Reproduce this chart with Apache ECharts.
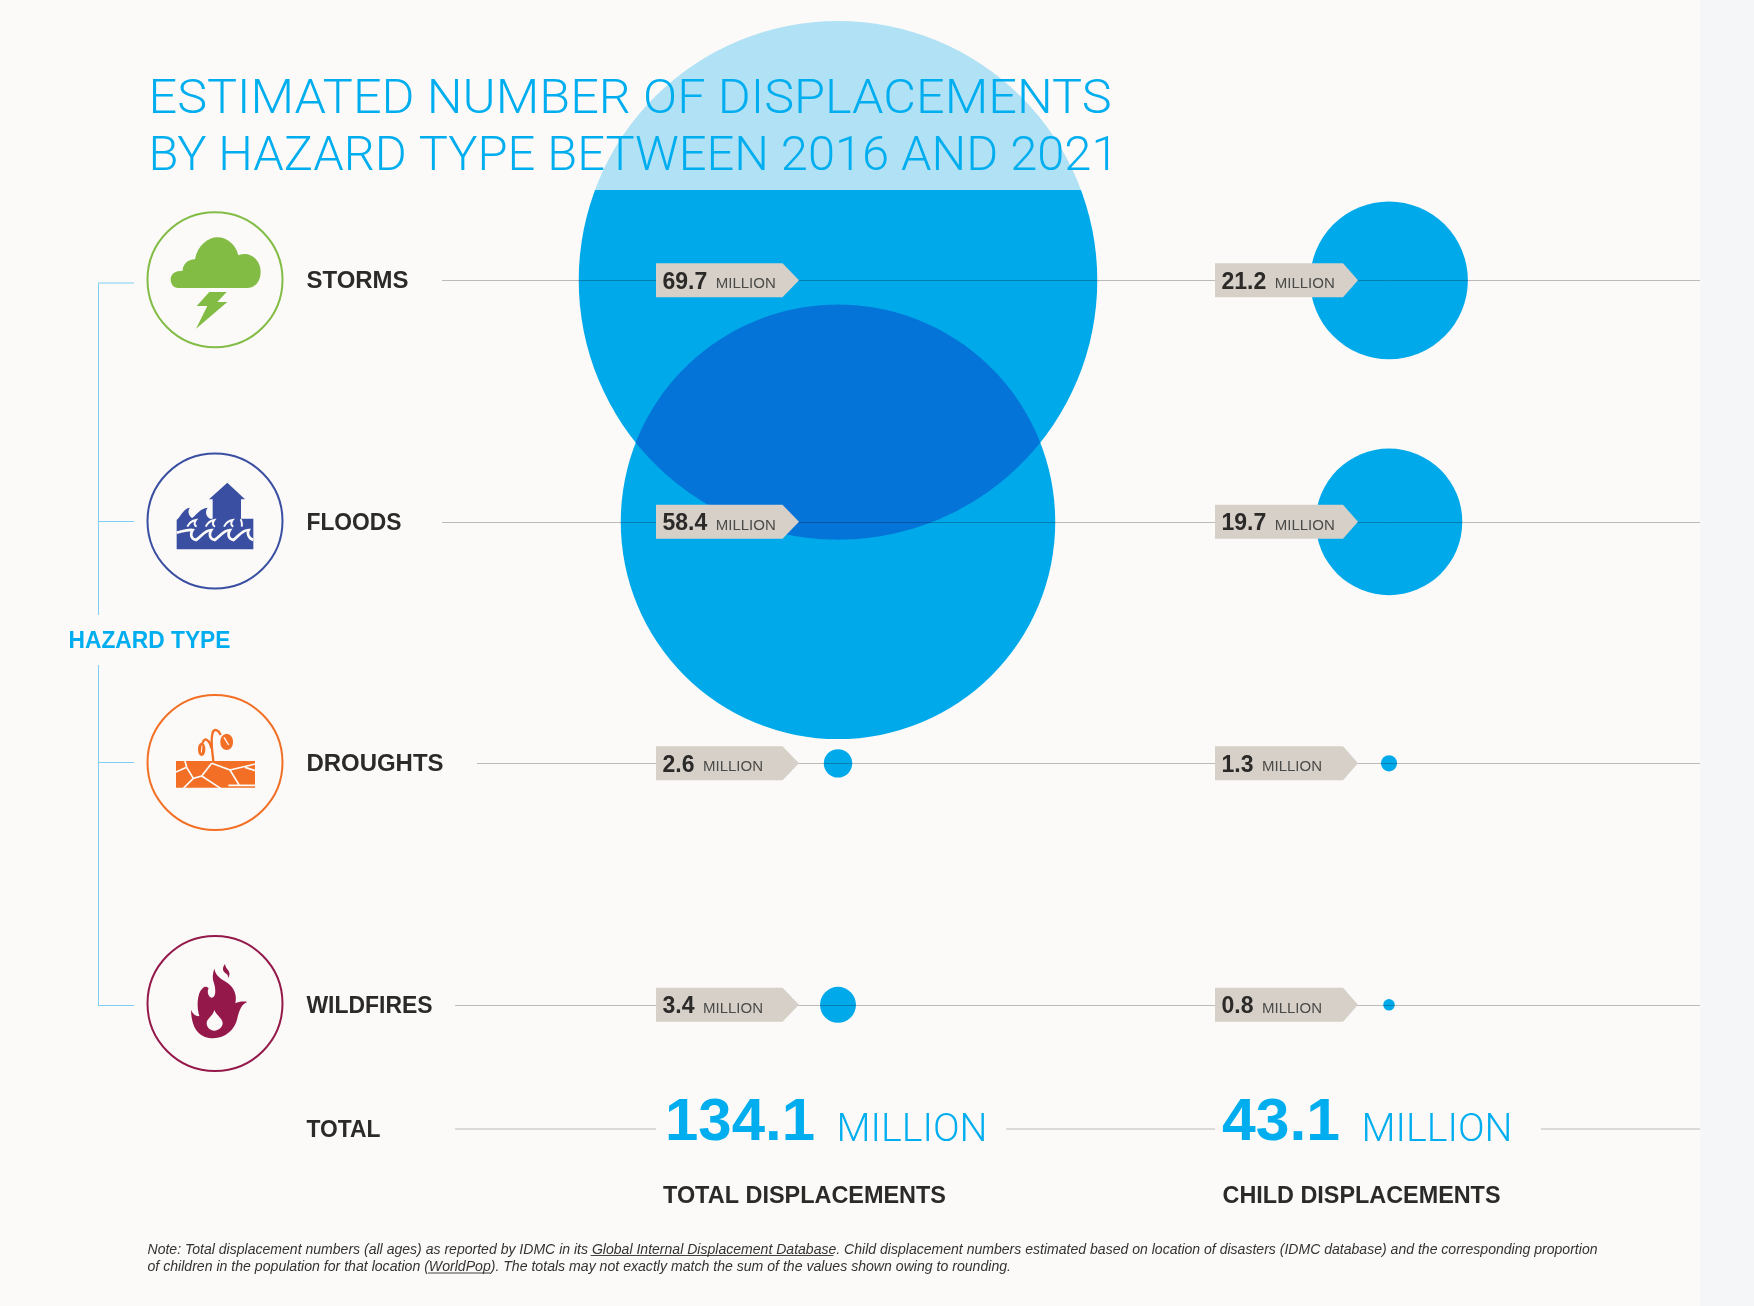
<!DOCTYPE html>
<html>
<head>
<meta charset="utf-8">
<style>html,body{margin:0;padding:0;background:#fbfaf8}#c{width:1754px;height:1306px}</style>
<script src="https://cdn.jsdelivr.net/npm/echarts@6/dist/echarts.min.js"></script>
</head>
<body>
<div id="c"></div>
<script>
// ---- data ----
const hazards = ['STORMS', 'FLOODS', 'DROUGHTS', 'WILDFIRES'];
const columns = ['TOTAL DISPLACEMENTS', 'CHILD DISPLACEMENTS'];
const totalValues = [69.7, 58.4, 2.6, 3.4];
const childValues = [21.2, 19.7, 1.3, 0.8];
const grandTotals = [134.1, 43.1];
const titleLines = ['ESTIMATED NUMBER OF DISPLACEMENTS', 'BY HAZARD TYPE BETWEEN 2016 AND 2021'];
const noteLines = [
  'Note: Total displacement numbers (all ages) as reported by IDMC in its Global Internal Displacement Database. Child displacement numbers estimated based on location of disasters (IDMC database) and the corresponding proportion',
  'of children in the population for that location (WorldPop). The totals may not exactly match the sum of the values shown owing to rounding.'
];

// ---- styling ----
const BG = '#fbfaf8', BLUE = '#00a9ea', TXTBLUE = '#00aeef', INK = '#2b2a29', TAG = '#d6d0c9', OVERLAP = '#0474d8';
const SANS = '"Liberation Sans", Arial, sans-serif', LIGHT = 'Roboto, "Liberation Sans", sans-serif';
const RULE = 'rgba(0,0,0,0.25)';
const ruleStart = [442, 442, 477, 455];
const bubbleRadius = v => v >= 10 ? 3.72 * v : 2 + 4.7 * v;
const tagOffset = [[-182, -55.5, -39], [-174, -46, -31]];

const ctx = document.createElement('canvas').getContext('2d');
function txt(str, x, base, size, o) {
  o = o || {};
  const font = (o.style || 'normal') + ' ' + (o.weight || 'normal') + ' ' + size + 'px ' + (o.family || SANS);
  ctx.font = font;
  const w = ctx.measureText(str).width;
  return { type: 'text', x: x, y: base - 0.26 * size, scaleX: o.w ? o.w / w : 1, z: 30, silent: true,
    style: { text: str, font: font, fill: o.fill || INK, align: 'left', verticalAlign: 'middle' } };
}
function hline(x1, x2, y, color, z) {
  return { type: 'line', z: z || 6, silent: true, shape: { x1: x1, y1: y, x2: x2, y2: y }, style: { stroke: color || RULE, lineWidth: 1 } };
}
function vline(x, y1, y2, color) {
  return { type: 'line', z: 6, silent: true, shape: { x1: x, y1: y1, x2: x, y2: y2 }, style: { stroke: color, lineWidth: 1 } };
}
function icon(d, ox, oy, style) {
  return { type: 'path', x: ox, y: oy, scaleX: 1 / 3, scaleY: 1 / 3, shape: { pathData: d }, style: style };
}
function ring(cx, cy, color) {
  return { type: 'circle', shape: { cx: cx, cy: cy, r: 67.5 }, style: { fill: BG, stroke: color, lineWidth: 2 } };
}
function ell(cx, cy, rx, ry) {
  return 'M' + (cx - rx) + ' ' + cy + ' C' + (cx - rx) + ' ' + (cy - ry * 1.33) + ' ' + (cx + rx) + ' ' + (cy - ry * 1.33) + ' ' + (cx + rx) + ' ' + cy +
    ' C' + (cx + rx) + ' ' + (cy + ry * 1.33) + ' ' + (cx - rx) + ' ' + (cy + ry * 1.33) + ' ' + (cx - rx) + ' ' + cy + ' Z';
}

const GREEN = '#82bc45', NAVY = '#3a4fa2', ORANGE = '#f26f25', WINE = '#94194a';
const icons = [
  ring(215, 279.7, GREEN),
  icon('M145 264 C130 264 122 252 122 238 C122 222 136 212 158 212 C158 195 172 178 195 178 C203 135 235 112 262 112 C292 112 318 135 325 166 C360 152 392 180 392 215 C392 245 375 264 350 264 Z', 130, 200, { fill: GREEN }),
  icon('M238 276 L290 276 L262 306 L292 306 L198 386 L232 318 L200 318 Z', 130, 200, { fill: GREEN }),

  ring(215, 521, NAVY),
  icon('M172 8 L225 58 L213 58 L213 118 L128 118 L128 58 L117 58 Z', 170, 480, { fill: NAVY }),
  icon('M20 120 C30 112 40 85 60 83 C52 92 55 105 66 114 C78 106 90 85 113 83 C104 94 108 110 120 116 L250 116 L250 208 L20 208 Z', 170, 480, { fill: NAVY }),
  icon('M20 158 C35 155 50 148 68 150 C60 162 62 176 78 180 C92 172 104 150 124 150 C116 162 118 176 134 180 C148 172 160 150 180 150 C172 162 174 176 190 180 C204 172 214 150 236 150 C230 160 236 176 250 180', 170, 480, { fill: 'none', stroke: BG, lineWidth: 8 }),
  icon('M52 140 C58 128 66 122 78 120 C72 128 72 136 80 140 M107 140 C113 128 121 122 133 120 C127 128 127 136 135 140 M162 140 C168 128 176 122 188 120 C182 128 182 136 190 140 M215 140 C219 130 212 122 213 118', 170, 480, { fill: 'none', stroke: BG, lineWidth: 6 }),

  ring(215, 762.5, ORANGE),
  icon('M138 243 L375 243 L375 323 L138 323 Z', 130, 680, { fill: ORANGE }),
  icon('M165 243 L170 262 L190 295 L160 325 M138 276 L170 262 M245 250 L215 288 L190 295 M215 288 L272 325 M245 250 L300 270 L328 316 L295 316 M328 316 L376 316 M300 270 L376 252 M345 262 L376 272', 130, 680, { fill: 'none', stroke: BG, lineWidth: 5 }),
  icon('M250 245 C248 215 240 185 248 158 C252 145 265 148 272 165 M244 205 C240 180 222 168 218 190', 130, 680, { fill: 'none', stroke: ORANGE, lineWidth: 7 }),
  icon(ell(290, 186, 19, 24), 130, 680, { fill: ORANGE }),
  icon(ell(215, 208, 11, 20), 130, 680, { fill: ORANGE }),
  icon('M282 172 L296 195', 130, 680, { fill: 'none', stroke: BG, lineWidth: 4 }),
  icon('M216 197 L214 218', 130, 680, { fill: 'none', stroke: BG, lineWidth: 3 }),

  ring(215, 1003.5, WINE),
  icon('M183 270 C190 285 200 290 208 288 C200 265 200 220 218 205 C225 198 232 200 236 205 C230 215 235 232 245 233 C258 233 258 210 252 190 C246 175 248 160 253 146 C258 175 285 180 300 195 C318 212 320 235 316 250 C325 245 340 243 352 246 C335 252 328 270 322 295 C315 330 285 355 250 355 C215 355 185 335 183 270 Z', 130, 920, { fill: WINE }),
  icon('M253 270 C258 285 278 295 278 310 C278 322 265 332 253 332 C240 332 230 322 230 310 C230 295 248 290 253 270 Z', 130, 920, { fill: BG }),
  icon('M285 132 C275 145 278 155 290 162 C296 168 296 175 290 178 C302 170 300 155 292 148 C288 143 286 138 285 132 Z', 130, 920, { fill: WINE })
];

const labelX = 306.5;
const labelBase = [287.5, 529.3, 770.7, 1012.7];
const labelWidth = [102, 95, 137, 126];
const texts = [
  txt(titleLines[0], 148.5, 113, 48, { family: LIGHT, weight: 300, fill: TXTBLUE, w: 963 }),
  txt(titleLines[1], 148.5, 170, 48, { family: LIGHT, weight: 300, fill: TXTBLUE, w: 970 }),
  txt('HAZARD TYPE', 68.5, 648, 23, { weight: 'bold', fill: TXTBLUE, w: 162 }),
  txt('TOTAL', labelX, 1137, 24, { weight: 'bold', w: 74 }),
  txt(grandTotals[0].toFixed(1), 665, 1139.5, 60, { weight: 'bold', fill: TXTBLUE, w: 150 }),
  txt('MILLION', 836.5, 1141, 38, { family: LIGHT, weight: 300, fill: TXTBLUE, w: 151 }),
  txt(grandTotals[1].toFixed(1), 1222, 1139.5, 60, { weight: 'bold', fill: TXTBLUE, w: 118 }),
  txt('MILLION', 1361.5, 1141, 38, { family: LIGHT, weight: 300, fill: TXTBLUE, w: 151 }),
  txt(columns[0], 663, 1203, 24, { weight: 'bold', w: 283 }),
  txt(columns[1], 1222.5, 1203, 24, { weight: 'bold', w: 278 }),
  txt(noteLines[0], 147.5, 1253.5, 14, { style: 'italic', fill: '#333', w: 1450 }),
  txt(noteLines[1], 147.5, 1271, 14, { style: 'italic', fill: '#333', w: 863.5 })
].concat(hazards.map((h, i) => txt(h, labelX, labelBase[i], 24, { weight: 'bold', w: labelWidth[i] })));

const BRACKET = '#7dd0f4';
const furniture = [
  { type: 'rect', z: 1, silent: true, shape: { x: 1700, y: 0, width: 54, height: 1306 }, style: { fill: '#f5f6f7' } },
  { type: 'rect', z: 5, silent: true, shape: { x: 560, y: 0, width: 560, height: 190 }, style: { fill: 'rgba(251,250,248,0.70)' } },
  vline(98.5, 283, 615, BRACKET), vline(98.5, 665, 1006, BRACKET),
  hline(98.5, 134, 283, BRACKET), hline(98.5, 134, 521.5, BRACKET), hline(98.5, 134, 762.5, BRACKET), hline(98.5, 134, 1005.5, BRACKET),
  hline(455, 656, 1129), hline(1006, 1215, 1129), hline(1541, 1700, 1129),
  hline(590.6, 833.4, 1255.5, '#444'), hline(428, 490, 1273, '#444')
];

const bubbleData = [];
totalValues.forEach((v, i) => bubbleData.push([0, i, v]));
childValues.forEach((v, i) => bubbleData.push([1, i, v]));

function lensPoints(c1, r1, c2, r2) {
  const d = Math.abs(c2[1] - c1[1]);
  if (d >= r1 + r2) return null;
  const a1 = Math.acos((d * d + r1 * r1 - r2 * r2) / (2 * d * r1));
  const a2 = Math.acos((d * d + r2 * r2 - r1 * r1) / (2 * d * r2));
  const pts = [];
  const n = 120;
  for (let k = 0; k <= n; k++) {
    const t = -a1 + 2 * a1 * k / n;           // lower arc of the upper circle
    pts.push([c1[0] + r1 * Math.sin(-t), c1[1] + r1 * Math.cos(t)]);
  }
  for (let k = 0; k <= n; k++) {
    const t = -a2 + 2 * a2 * k / n;           // upper arc of the lower circle
    pts.push([c2[0] + r2 * Math.sin(t), c2[1] - r2 * Math.cos(t)]);
  }
  return pts;
}

const option = {
  backgroundColor: BG,
  animation: false,
  grid: { left: 562.5, width: 1102, top: 159.6, height: 966, containLabel: false },
  xAxis: { type: 'category', data: columns, show: false },
  yAxis: { type: 'category', data: hazards, inverse: true, show: false },
  graphic: { elements: furniture.concat(texts) },
  series: [
    {
      type: 'scatter', z: 2, clip: false, silent: true, data: bubbleData,
      encode: { x: 0, y: 1 },
      symbol: 'circle',
      symbolSize: d => 2 * bubbleRadius(d[2]),
      itemStyle: { color: BLUE, opacity: 1 }
    },
    {
      type: 'custom', z: 3, clip: false, silent: true, data: [[0, 0, 1]],
      encode: { x: 0, y: 1 },
      renderItem: (params, api) => {
        const col = api.value(0), a = api.value(1), b = api.value(2);
        const src = col === 0 ? totalValues : childValues;
        const pts = lensPoints(api.coord([col, a]), bubbleRadius(src[a]), api.coord([col, b]), bubbleRadius(src[b]));
        return pts && { type: 'polygon', shape: { points: pts }, style: { fill: OVERLAP } };
      }
    },
    {
      type: 'custom', z: 6, clip: false, silent: true, data: hazards.map((h, i) => [0, i]),
      encode: { x: 0, y: 1 },
      renderItem: (params, api) => {
        const row = api.value(1), y = Math.round(api.coord([0, row])[1]) + 0.5;
        return { type: 'line', shape: { x1: ruleStart[row], y1: y, x2: 1700, y2: y }, style: { stroke: RULE, lineWidth: 1 } };
      }
    },
    {
      type: 'custom', z: 8, clip: false, silent: true, data: bubbleData,
      encode: { x: 0, y: 1 },
      renderItem: (params, api) => {
        const col = api.value(0), row = api.value(1), v = api.value(2).toFixed(1);
        const p = api.coord([col, row]), o = tagOffset[col];
        const l = p[0] + o[0], b = p[0] + o[1], t = p[0] + o[2], y = p[1];
        const vFont = 'bold 23px ' + SANS, mFont = '15px ' + SANS;
        ctx.font = vFont;
        const w = ctx.measureText(v).width;
        return {
          type: 'group',
          children: [
            { type: 'polygon', shape: { points: [[l, y - 17], [b, y - 17], [t, y], [b, y + 17], [l, y + 17]] }, style: { fill: TAG } },
            { type: 'text', x: l + 6.5, y: y + 2, style: { text: v, font: vFont, fill: INK, align: 'left', verticalAlign: 'middle' } },
            { type: 'text', x: l + 6.5 + w + 8.5, y: y + 4, style: { text: 'MILLION', font: mFont, fill: '#4a4a48', align: 'left', verticalAlign: 'middle' } }
          ]
        };
      }
    },
    {
      type: 'custom', z: 20, clip: false, silent: true, data: [[0, 0]],
      encode: { x: 0, y: 1 },
      renderItem: () => ({ type: 'group', children: icons })
    }
  ]
};
echarts.init(document.getElementById('c'), null, { renderer: 'canvas' }).setOption(option);
</script>
</body>
</html>
